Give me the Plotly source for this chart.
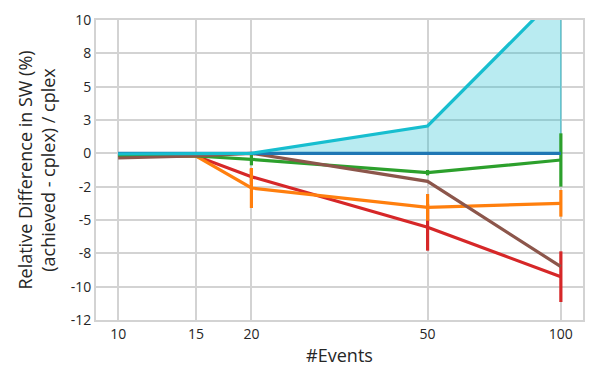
import plotly.graph_objects as go

# number of events (x axis, log scale)
events = [10, 15, 20, 50, 100]

# relative difference in SW (%) per method, with error bar half-widths
blue = [0.0, 0.0, 0.0, 0.0, 0.0]
cyan = [-0.05, 0.0, 0.0, 2.05, 12.1]
green = [-0.15, -0.2, -0.45, -1.45, -0.5]
green_err = [0.0, 0.0, 0.45, 0.2, 2.0]
orange = [-0.15, -0.2, -2.6, -4.05, -3.75]
orange_err = [0.0, 0.0, 1.5, 1.0, 1.0]
red = [-0.15, -0.2, -1.75, -5.55, -9.25]
red_err = [0.0, 0.0, 0.6, 1.75, 1.9]
brown = [-0.35, -0.2, 0.0, -2.1, -8.5]

ytick_vals = [-12.5, -10, -7.5, -5, -2.5, 0, 2.5, 5, 7.5, 10]
ytick_text = ['-12', '-10', '-8', '-5', '-2', '0', '3', '5', '8', '10']
xtick_vals = [10, 15, 20, 50, 100]

fig = go.Figure()

# shaded area between cyan curve and zero
fig.add_trace(go.Scatter(
    x=events + events[::-1], y=cyan + blue[::-1],
    fill='toself', fillcolor='rgba(23,190,207,0.3)',
    line=dict(color='rgba(23,190,207,0.5)', width=1.5),
    mode='lines', hoverinfo='skip', showlegend=False))


def add_line(y, color, err=None):
    kw = {}
    if err is not None:
        kw['error_y'] = dict(type='data', array=err, visible=True,
                             color=color, thickness=3.2, width=0)
    fig.add_trace(go.Scatter(x=events, y=y, mode='lines',
                             line=dict(color=color, width=3.2),
                             showlegend=False, **kw))


add_line(red, '#d62728', red_err)
add_line(orange, '#ff7f0e', orange_err)
add_line(green, '#2ca02c', green_err)
add_line(brown, '#8c564b')
add_line(blue, '#1f77b4')
add_line(cyan, '#17becf')

grid = '#d3d3d3'
txt = '#262626'
fig.update_xaxes(
    type='log', range=[0.95, 2.05], tickvals=xtick_vals,
    ticktext=[str(v) for v in xtick_vals],
    showgrid=True, gridcolor=grid, gridwidth=1.5,
    showline=True, linecolor=grid, linewidth=2, mirror=True,
    ticks='', zeroline=False, automargin=False,
    title=dict(text='#Events', font=dict(size=18, color=txt), standoff=8),
    tickfont=dict(size=14, color=txt))
fig.update_yaxes(
    range=[-12.5, 10], tickvals=ytick_vals, ticktext=ytick_text,
    showgrid=True, gridcolor=grid, gridwidth=1.5,
    showline=True, linecolor=grid, linewidth=2, mirror=True,
    ticks='', zeroline=False, automargin=False,
    title=dict(text='Relative Difference in SW (%)<br>(achieved - cplex) / cplex',
               font=dict(size=18, color=txt), standoff=10),
    tickfont=dict(size=14, color=txt))

# the page body adds an 8px offset, so the figure is sized to fit the window
fig.update_layout(
    width=590, height=374,
    margin=dict(l=88, r=15, t=12, b=62, autoexpand=False),
    plot_bgcolor='white', paper_bgcolor='white',
    font=dict(family='Open Sans', color=txt),
)

fig.write_html("out.html")
